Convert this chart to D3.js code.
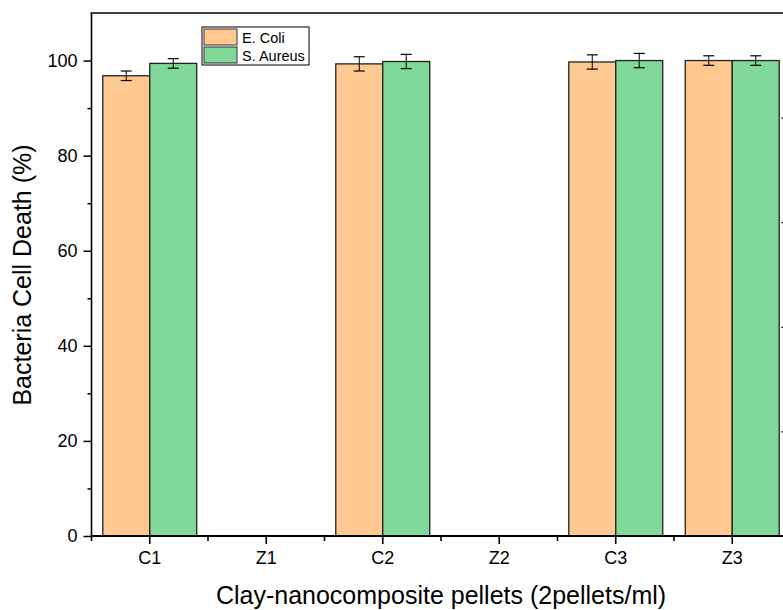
<!DOCTYPE html>
<html><head><meta charset="utf-8">
<script src="https://cdn.jsdelivr.net/npm/d3@7"></script>
<style>body{margin:0;background:#fff}svg{display:block}text{font-family:Arial,"Liberation Sans",sans-serif;fill:#000}</style>
</head><body><svg id="c" width="783" height="610"></svg>
<script>
const categories = ["C1","Z1","C2","Z2","C3","Z3"];
const seriesNames = ["E. Coli","S. Aureus"];
const eColi = [96.8, 0, 99.3, 0, 99.7, 100.0];
const eColiErr = [1.0, null, 1.5, null, 1.5, 1.0];
const sAureus = [99.4, 0, 99.8, 0, 100.0, 100.0];
const sAureusErr = [1.0, null, 1.5, null, 1.5, 1.0];
const yTicks = [0,20,40,60,80,100];
const colors = ["#FFC891","#80D89A"];

const svg = d3.select("#c");
const L = 91.5, R = 790.5, T = 13, B = 536;
const x = d3.scaleBand().domain(categories).range([L,R]).paddingInner(0).paddingOuter(0);
const xs = d3.scaleBand().domain(seriesNames).range([0,x.bandwidth()]).paddingInner(0).paddingOuter(0.24);
const y = d3.scaleLinear().domain([0,110]).range([B,T]);

const data = categories.map((c,i)=>({c, vals:[
  {s:seriesNames[0], v:eColi[i], e:eColiErr[i]},
  {s:seriesNames[1], v:sAureus[i], e:sAureusErr[i]}]}));

const g = svg.append("g");
const grp = g.selectAll("g.cat").data(data).join("g").attr("transform",d=>`translate(${x(d.c)},0)`);
grp.selectAll("rect").data(d=>d.vals.filter(v=>v.v>0)).join("rect")
  .attr("x",d=>xs(d.s)).attr("width",xs.bandwidth())
  .attr("y",d=>y(d.v)).attr("height",d=>y(0)-y(d.v))
  .attr("fill",(d)=>colors[seriesNames.indexOf(d.s)])
  .attr("stroke","#222").attr("stroke-width",1.3);
const eb = grp.selectAll("g.eb").data(d=>d.vals.filter(v=>v.e!=null)).join("g")
  .attr("transform",d=>`translate(${xs(d.s)+xs.bandwidth()/2},0)`);
eb.append("line").attr("y1",d=>y(d.v-d.e)).attr("y2",d=>y(d.v+d.e)).attr("stroke","#000").attr("stroke-width",1);
eb.append("line").attr("x1",-5.5).attr("x2",5.5).attr("y1",d=>y(d.v+d.e)).attr("y2",d=>y(d.v+d.e)).attr("stroke","#000").attr("stroke-width",1.2);
eb.append("line").attr("x1",-5.5).attr("x2",5.5).attr("y1",d=>y(d.v-d.e)).attr("y2",d=>y(d.v-d.e)).attr("stroke","#000").attr("stroke-width",1.2);

// left axis
const yAx = svg.append("g").attr("transform",`translate(${L},0)`)
  .call(d3.axisLeft(y).tickValues(yTicks).tickSize(8).tickPadding(6));
yAx.selectAll(".tick text").style("font-size","18px").style("font-family","Arial, Liberation Sans, sans-serif");
yAx.selectAll(".tick line").attr("stroke-width",1.5);
yAx.select(".domain").remove();
svg.append("g").attr("transform",`translate(${L},0)`)
  .call(d3.axisLeft(y).tickValues(d3.range(10,110,20)).tickSize(4).tickFormat(""))
  .call(a=>{a.select(".domain").remove();a.selectAll("line").attr("stroke-width",1.5);});
svg.append("line").attr("x1",L).attr("x2",L).attr("y1",T).attr("y2",B).attr("stroke","#000").attr("stroke-width",1.6);
svg.append("line").attr("x1",L-1).attr("x2",R).attr("y1",T).attr("y2",T).attr("stroke","#000").attr("stroke-width",1.6);

// right axis (mostly cropped)
const y2 = d3.scaleLinear().domain([0,5]).range([B,T]);
svg.append("g").attr("transform",`translate(${R},0)`)
  .call(d3.axisLeft(y2).tickValues([1,2,3,4]).tickSize(9).tickFormat(""))
  .call(a=>{a.select(".domain").remove();a.selectAll("line").attr("stroke-width",1.3);});

// bottom axis
const xAx = svg.append("g").attr("transform",`translate(0,${B})`)
  .call(d3.axisBottom(x).tickSize(8).tickPadding(7));
xAx.select(".domain").remove();
xAx.selectAll(".tick text").style("font-size","18px").style("font-family","Arial, Liberation Sans, sans-serif");
xAx.selectAll(".tick line").attr("stroke-width",1.6);
svg.append("g").selectAll("line").data(categories).join("line")
  .attr("x1",d=>x(d)).attr("x2",d=>x(d)).attr("y1",B).attr("y2",B+5).attr("stroke","#000").attr("stroke-width",1.6);
svg.append("line").attr("x1",L-1).attr("x2",R).attr("y1",B).attr("y2",B).attr("stroke","#000").attr("stroke-width",2.2);

// titles
svg.append("text").attr("x",441).attr("y",604).attr("text-anchor","middle").style("font-size","25px")
  .text("Clay-nanocomposite pellets (2pellets/ml)");
svg.append("text").attr("transform","translate(31,275) rotate(-90)").attr("text-anchor","middle").style("font-size","25px")
  .text("Bacteria Cell Death (%)");

// legend
const lg = svg.append("g").attr("transform","translate(202,27)");
lg.append("rect").attr("x",0).attr("y",0).attr("width",107).attr("height",38).attr("fill","#fff").attr("stroke","#000").attr("stroke-width",1);
const li = lg.selectAll("g.li").data(seriesNames).join("g").attr("transform",(d,i)=>`translate(2,${2+i*18})`);
li.append("rect").attr("width",33).attr("height",16).attr("fill",(d,i)=>colors[i]).attr("stroke","#333").attr("stroke-width",1);
li.append("text").attr("x",38).attr("y",14).style("font-size","14.5px").text(d=>d);
</script></body></html>
